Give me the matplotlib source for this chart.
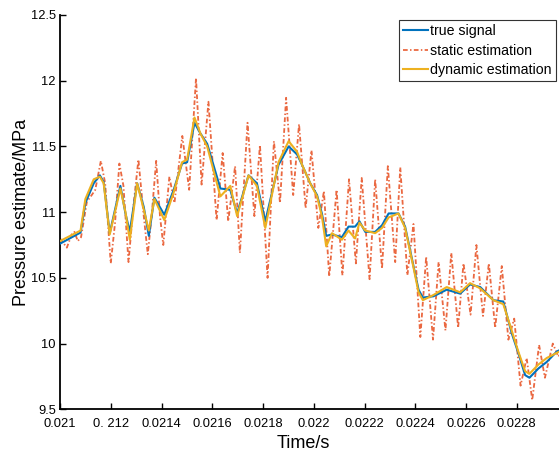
import matplotlib
matplotlib.use("Agg")
import matplotlib.pyplot as plt
from matplotlib.ticker import FixedLocator, FixedFormatter

plt.rcParams['font.family'] = ['Liberation Sans', 'DejaVu Sans']

# ---- data ----
true_t = [0.021000, 0.021081, 0.021100, 0.021133, 0.021157, 0.021172, 0.021196,
          0.021238, 0.021258, 0.021275, 0.021304, 0.021330, 0.021350, 0.021372,
          0.021411, 0.021448, 0.021481, 0.021501, 0.021530, 0.021553, 0.021580,
          0.021632, 0.021671, 0.021698, 0.021743, 0.021776, 0.021809, 0.021861,
          0.021901, 0.021934, 0.021954, 0.021986, 0.022013, 0.022032, 0.022049,
          0.022072, 0.022111, 0.022137, 0.022163, 0.022180, 0.022203, 0.022242,
          0.022269, 0.022295, 0.022334, 0.022360, 0.022393, 0.022413, 0.022430,
          0.022472, 0.022524, 0.022577, 0.022616, 0.022656, 0.022708, 0.022747,
          0.022780, 0.022806, 0.022833, 0.022850, 0.022885, 0.022918, 0.022958,
          0.022980]
true_v = [10.76, 10.845, 11.07, 11.22, 11.28, 11.23, 10.84,
          11.20, 10.99, 10.85, 11.22, 11.04, 10.82, 11.11,
          10.98, 11.17, 11.37, 11.38, 11.68, 11.60, 11.52,
          11.18, 11.17, 10.99, 11.28, 11.22, 10.93, 11.36,
          11.50, 11.44, 11.36, 11.22, 11.13, 10.99, 10.82,
          10.83, 10.81, 10.89, 10.89, 10.93, 10.85, 10.85,
          10.90, 10.99, 10.99, 10.89, 10.59, 10.41, 10.35,
          10.36, 10.41, 10.38, 10.45, 10.43, 10.33, 10.32,
          10.08, 9.93, 9.76, 9.74, 9.81, 9.86, 9.94,
          9.96]

dyn_v = [10.78, 10.86, 11.10, 11.25, 11.27, 11.22, 10.83,
         11.18, 11.00, 10.79, 11.22, 11.02, 10.86, 11.10,
         10.94, 11.15, 11.38, 11.40, 11.72, 11.60, 11.50,
         11.12, 11.20, 10.97, 11.28, 11.20, 10.88, 11.38,
         11.54, 11.46, 11.36, 11.22, 11.12, 10.97, 10.74,
         10.84, 10.79, 10.86, 10.80, 10.92, 10.86, 10.84,
         10.88, 10.96, 10.99, 10.88, 10.58, 10.39, 10.33,
         10.37, 10.43, 10.39, 10.46, 10.42, 10.33, 10.30,
         10.10, 9.94, 9.79, 9.77, 9.84, 9.89, 9.93,
         9.95]

static_t = [0.021000, 0.021027, 0.021046, 0.021057, 0.021070, 0.021083, 0.021106,
            0.021125, 0.021139, 0.021161, 0.021178, 0.021200, 0.021217, 0.021234,
            0.021250, 0.021270, 0.021289, 0.021309, 0.021329, 0.021346, 0.021361,
            0.021379, 0.021394, 0.021407, 0.021431, 0.021451, 0.021482, 0.021509,
            0.021536, 0.021558, 0.021585, 0.021617, 0.021641, 0.021663, 0.021690,
            0.021709, 0.021739, 0.021766, 0.021788, 0.021818, 0.021843, 0.021867,
            0.021891, 0.021919, 0.021942, 0.021968, 0.021991, 0.022018, 0.022040,
            0.022061, 0.022090, 0.022113, 0.022139, 0.022166, 0.022189, 0.022220,
            0.022242, 0.022269, 0.022292, 0.022321, 0.022341, 0.022369, 0.022393,
            0.022420, 0.022443, 0.022470, 0.022492, 0.022519, 0.022542, 0.022569,
            0.022590, 0.022618, 0.022641, 0.022667, 0.022690, 0.022715, 0.022741,
            0.022767, 0.022790, 0.022815, 0.022839, 0.022861, 0.022888, 0.022911,
            0.022942, 0.022964, 0.022990]
static_v = [10.80, 10.73, 10.83, 10.85, 10.78, 10.81, 11.08,
            11.13, 11.17, 11.39, 11.22, 10.61, 10.92, 11.37,
            11.20, 10.62, 11.04, 11.40, 10.99, 10.68, 10.97,
            11.39, 10.97, 10.75, 11.27, 11.07, 11.58, 11.17,
            12.02, 11.21, 11.84, 10.94, 11.45, 10.93, 11.35,
            10.69, 11.68, 10.97, 11.51, 10.50, 11.54, 11.07,
            11.87, 11.13, 11.67, 11.03, 11.47, 10.88, 11.16,
            10.51, 11.17, 10.52, 11.25, 10.61, 11.26, 10.49,
            11.25, 10.57, 11.35, 10.62, 11.34, 10.52, 10.91,
            10.05, 10.66, 10.03, 10.62, 10.10, 10.69, 10.12,
            10.61, 10.22, 10.75, 10.21, 10.61, 10.12, 10.59,
            10.03, 10.19, 9.68, 9.89, 9.57, 9.99, 9.74,
            10.00, 9.90, 10.00]

xticks = [0.0210, 0.0212, 0.0214, 0.0216, 0.0218, 0.0220, 0.0222, 0.0224, 0.0226, 0.0228]
xtick_labels = ['0.021', '0. 212', '0.0214', '0.0216', '0.0218', '0.022',
                '0.0222', '0.0224', '0.0226', '0.0228']
yticks = [9.5, 10, 10.5, 11, 11.5, 12, 12.5]
ytick_labels = ['9.5', '10', '10.5', '11', '11.5', '12', '12.5']
series_names = ['true signal', 'static estimation', 'dynamic estimation']

# ---- figure ----
W, H = 559, 451
fig = plt.figure(figsize=(W / 100, H / 100), dpi=100)
ax = fig.add_axes([60 / W, (H - 409.3) / H, (W - 60) / W, (409.3 - 15) / H])

l1, = ax.plot(true_t, true_v, color='#0072BD', lw=1.5, zorder=3)
l2, = ax.plot(static_t, static_v, color='#E8582C', lw=1.3,
              linestyle=(0, (2.6, 1.3, 0.8, 1.3)), alpha=0.9, zorder=2)
l3, = ax.plot(true_t, dyn_v, color='#EDB120', lw=1.5, zorder=4)

ax.set_xlim(0.021, 0.0229665)
ax.set_ylim(9.5, 12.5)

ax.xaxis.set_major_locator(FixedLocator(xticks))
ax.xaxis.set_major_formatter(FixedFormatter(xtick_labels))
ax.yaxis.set_major_locator(FixedLocator(yticks))
ax.yaxis.set_major_formatter(FixedFormatter(ytick_labels))

for s in ['top', 'right']:
    ax.spines[s].set_visible(False)
for s in ['left', 'bottom']:
    ax.spines[s].set_linewidth(1.3)
    ax.spines[s].set_color('black')

ax.tick_params(direction='in', length=4, width=1.0, labelsize=9.3, pad=3, colors='black')
ax.tick_params(axis='x', pad=6)

ax.set_xlabel('Time/s', fontsize=13)
ax.xaxis.set_label_coords((303 - 60) / (W - 60), -0.064)
ax.set_ylabel('Pressure estimate/MPa', fontsize=13)
ax.yaxis.set_label_coords(-0.06, 0.5)

leg = ax.legend([l1, l2, l3], series_names, loc='upper right',
                bbox_to_anchor=((556 - 60) / (W - 60), (409.3 - 20) / (409.3 - 15)),
                fontsize=10.2, frameon=True, fancybox=False, framealpha=1,
                edgecolor='#333333', handlelength=1.75, handletextpad=0.15,
                labelspacing=0.38, borderpad=0.3, borderaxespad=0)
leg.get_frame().set_linewidth(0.8)

fig.savefig('out.png', dpi=100)
